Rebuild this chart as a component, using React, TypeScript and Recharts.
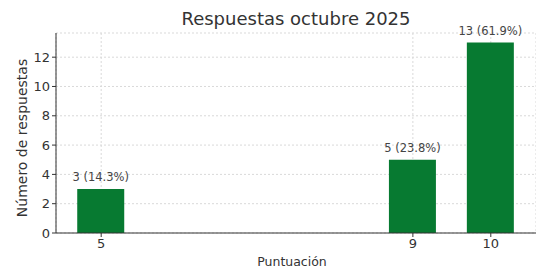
import { Bar, BarChart, CartesianGrid, LabelList, XAxis, YAxis } from 'recharts';

const scores = [5, 9, 10];
const counts = [3, 5, 13];
const percents = ['14.3%', '23.8%', '61.9%'];
const xTicks = [5, 9, 10];
const yTicks = [0, 2, 4, 6, 8, 10, 12];

const chartData = scores.map((score, i) => ({
  score,
  count: counts[i],
  label: `${counts[i]} (${percents[i]})`,
}));

const font = '"DejaVu Sans", sans-serif';
const textColor = '#333333';

function BarLabel(props: any) {
  const { x, y, width, index } = props;
  return (
    <text
      x={x + width / 2}
      y={y - 8}
      textAnchor="middle"
      fontSize={11.5}
      fontFamily={font}
      fill="#444444"
    >
      {chartData[index].label}
    </text>
  );
}

function YLabel() {
  return (
    <text
      x={27}
      y={138}
      transform="rotate(-90 27 138)"
      textAnchor="middle"
      fontSize={14}
      fontFamily={font}
      fill={textColor}
    >
      Número de respuestas
    </text>
  );
}

function XLabel() {
  return (
    <text
      x={292}
      y={266}
      textAnchor="middle"
      fontSize={12.5}
      fontFamily={font}
      fill={textColor}
    >
      Puntuación
    </text>
  );
}

export default function App() {
  return (
    <div style={{ position: 'absolute', left: 0, top: 0, width: 536, height: 268, background: '#fff' }}>
      <div
        style={{
          position: 'absolute',
          left: 56,
          width: 480,
          top: 7,
          textAlign: 'center',
          fontFamily: font,
          fontSize: 18,
          color: textColor,
          lineHeight: '24px',
        }}
      >
        Respuestas octubre 2025
      </div>
      <BarChart
        width={536}
        height={268}
        data={chartData}
        margin={{ top: 33, right: 0, bottom: 0, left: 0 }}
      >
        <CartesianGrid stroke="#d9d9d9" strokeDasharray="2 2" />
        <XAxis
          type="number"
          dataKey="score"
          domain={[4.42, 10.58]}
          ticks={xTicks}
          allowDataOverflow
          height={35}
          tickSize={4}
          tickMargin={2}
          stroke="#333333"
          tick={{ fontSize: 13, fontFamily: font, fill: textColor }}
          label={<XLabel />}
        />
        <YAxis
          type="number"
          domain={[0, 13.65]}
          ticks={yTicks}
          allowDataOverflow
          width={56}
          tickSize={4}
          tickMargin={2}
          stroke="#333333"
          tick={{ fontSize: 13, fontFamily: font, fill: textColor }}
          label={<YLabel />}
        />
        <Bar dataKey="count" fill="#077a31" barSize={47} isAnimationActive={false}>
          <LabelList dataKey="count" content={<BarLabel />} />
        </Bar>
      </BarChart>
    </div>
  );
}
